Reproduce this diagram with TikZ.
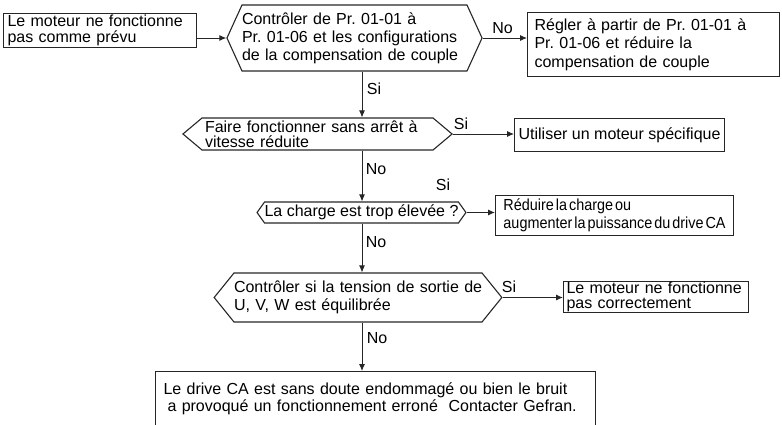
\documentclass[tikz,border=0pt]{standalone}
\usepackage{fontspec}
\setmainfont{Liberation Sans}
\newfontfamily\narrowfont[FakeStretch=0.9,WordSpace=0.5]{Liberation Sans}
\usepackage{tikz}
\usetikzlibrary{positioning,shapes.symbols,arrows.meta}
\frenchspacing

\tikzset{
  box/.style={draw=black!85, line width=1.1pt, anchor=north west, align=left, inner xsep=4pt, inner ysep=0pt, font=\fontsize{16}{16}\selectfont},
  hexa/.style={draw=black!85, line width=1.1pt, shape=signal, signal to=west and east, align=left, inner xsep=0pt, inner ysep=0pt, font=\fontsize{16}{18}\selectfont},
  flow/.style={draw=black!85, line width=0.9pt, -{Latex[length=7pt,width=6pt]}},
  lbl/.style={inner sep=0pt, font=\fontsize{16}{16}\selectfont}
}

\begin{document}
\begin{tikzpicture}[x=1pt,y=-1pt]
\useasboundingbox (0,0) rectangle (782,425);
\clip (0,0) rectangle (782,425);
\coordinate (spine) at (362,0);
\node[box, text width=185pt, minimum height=34pt] (motor) at (3,13) {Le moteur ne fonctionne\\pas comme prévu};
\node[hexa, text width=225pt, minimum height=66pt, signal pointer angle=131] (check) at (354.5,38) {\mbox{Contrôler de Pr. 01-01 à}\\\mbox{Pr. 01-06 et les configurations}\\\mbox{de la compensation de couple}};
\node[box, inner xsep=7pt, text width=238pt, minimum height=64pt, font=\fontsize{16}{18.5}\selectfont] (adjust) at (527,12) {Régler à partir de Pr. 01-01 à\\Pr. 01-06 et réduire la\\compensation de couple};
\node[hexa, inner xsep=3pt, text width=225pt, minimum height=32pt, signal pointer angle=80, font=\fontsize{16}{15}\selectfont] (speed) at (317.5,134) {\mbox{Faire fonctionner sans arrêt à}\\vitesse réduite};
\node[box, inner xsep=2pt, minimum width=210pt, minimum height=33pt] (special) at (514,118) {Utiliser un moteur spécifique};
\node[hexa, minimum height=21pt, signal pointer angle=109] (load) at (361.5,212.5) {La charge est trop élevée ?};
\node[box, inner xsep=0pt, minimum width=238pt, minimum height=40pt, font=\narrowfont\fontsize{16}{18}\selectfont] (reduce) at (495,195) {Réduire la charge ou\\augmenter la puissance du drive CA};
\node[hexa, text width=248pt, minimum height=49pt, signal pointer angle=102] (volt) at (358,297.5) {\mbox{Contrôler si la tension de sortie de}\\\mbox{U, V, W est équilibrée}};
\node[box, inner xsep=3pt, text width=179pt, minimum height=31pt, font=\fontsize{16}{15}\selectfont] (faulty) at (563,281) {\mbox{Le moteur ne fonctionne}\\pas correctement};
\node[box, inner xsep=8pt, text width=424pt, minimum height=55pt, font=\fontsize{16}{17}\selectfont] (drive) at (155,371) {Le drive CA est sans doute endommagé ou bien le bruit\\\hspace*{4pt}a provoqué un fonctionnement erroné~ Contacter Gefran.};

\node[lbl] (no1) at (502.5,28) {No};
\node[lbl] (si1) at (374,89) {Si};
\node[lbl] (si2) at (461,124) {Si};
\node[lbl] (no2) at (376,169) {No};
\node[lbl] (si3) at (443,185) {Si};
\node[lbl] (no3) at (376,242) {No};
\node[lbl] (si4) at (509,287) {Si};
\node[lbl] (no4) at (377,338) {No};

\draw[flow] (motor.east |- check.west) -- (check.west);
\draw[flow] (check.east) -- (check.east -| adjust.west);
\draw[flow] (check.south -| spine) -- (speed.north -| spine);
\draw[flow] (speed.east) -- (speed.east -| special.west);
\draw[flow] (speed.south -| spine) -- (load.north -| spine);
\draw[flow] (load.east) -- (load.east -| reduce.west);
\draw[flow] (load.south -| spine) -- (volt.north -| spine);
\draw[flow] (volt.east) -- (volt.east -| faulty.west);
\draw[flow] (volt.south -| spine) -- (drive.north -| spine);
\end{tikzpicture}
\end{document}
